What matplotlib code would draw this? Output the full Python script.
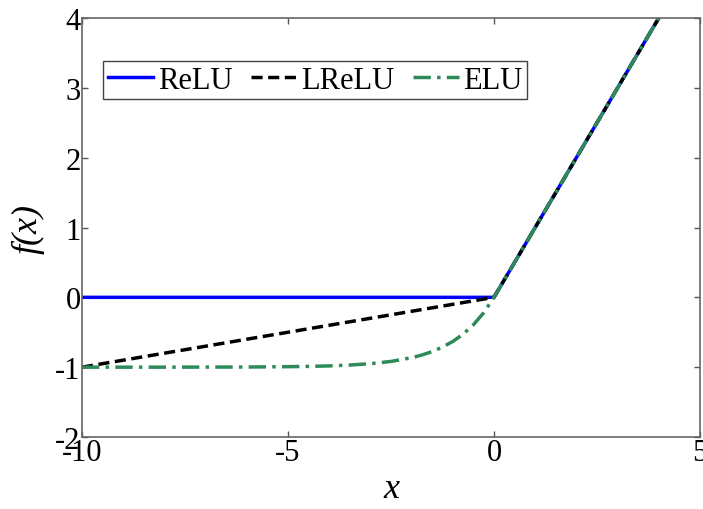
import matplotlib
matplotlib.use('Agg')
import matplotlib.pyplot as plt
import numpy as np

matplotlib.rcParams.update({'font.family': ['Liberation Serif', 'DejaVu Serif']})
matplotlib.rcParams.update({'axes.unicode_minus': False})

# ReLU / LReLU are piecewise straight: corner points only
relu_x = [-10, 0, 4]
relu_y = [0, 0, 4]
lrelu_x = [-10, 0, 4]
lrelu_y = [-1.0, 0, 4]

# ELU
elu_x = [-10, -9, -8, -7, -6, -5, -4.5, -4, -3.5, -3, -2.5, -2, -1.75, -1.5, -1.25,
         -1, -0.75, -0.5, -0.25, 0, 1, 2, 3, 4]
elu_y = [-1.0, -1.0, -1.0, -0.999, -0.998, -0.993, -0.989, -0.982, -0.970, -0.950,
         -0.918, -0.865, -0.826, -0.777, -0.713, -0.632, -0.528, -0.393, -0.221,
         0, 1, 2, 3, 4]

fig = plt.figure(figsize=(7.03, 5.10), dpi=100)
ax = fig.add_axes([0.1166, 0.1412, 0.8791, 0.8215])

ax.plot(relu_x, relu_y, color='#0000ff', linewidth=2.5, label='ReLU')
ax.plot(lrelu_x, lrelu_y, color='black', linewidth=2.5, linestyle=(0, (3.2, 1.6)), label='LReLU')
ax.plot(elu_x, elu_y, color='#2e8b57', linewidth=2.5, linestyle=(0, (5, 1.8, 1, 1.8)), label='ELU')

ax.set_xlim(-10, 5)
ax.set_ylim(-2, 4)
ax.set_xticks([-10, -5, 0, 5])
ax.set_yticks(np.arange(-2, 4.1, 1))
ax.tick_params(direction='in', length=4, width=1, top=True, right=True,
               labelsize=22, pad=1, color='#555555')
for s in ax.spines.values():
    s.set_color('#666666')
    s.set_linewidth(1.2)

ax.set_xlabel('x', fontsize=26, fontstyle='italic', labelpad=3)
ax.set_ylabel('f(x)', fontsize=26, fontstyle='italic', labelpad=8)

leg = ax.legend(loc='upper left', ncol=3, fontsize=22, bbox_to_anchor=(0.034, 0.897),
                handlelength=1.5, handletextpad=0.15, columnspacing=0.6,
                borderpad=0.15, borderaxespad=0, fancybox=False, framealpha=1)
leg.get_frame().set_edgecolor('#444444')
leg.get_frame().set_linewidth(1)

fig.savefig('out.png', dpi=100)
